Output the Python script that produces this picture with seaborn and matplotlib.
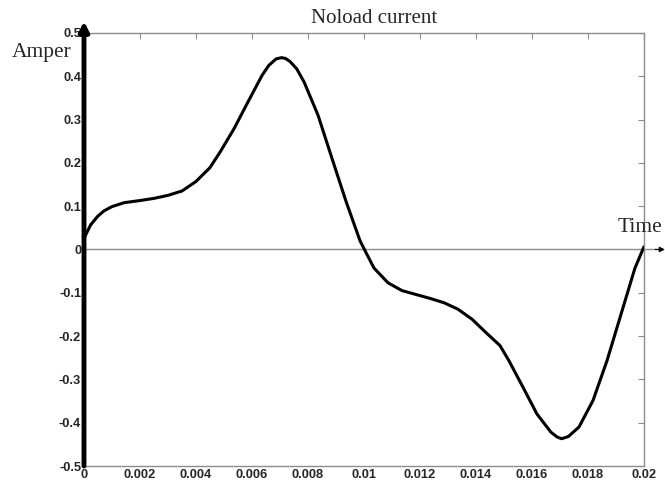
import numpy as np
import pandas as pd
import matplotlib
matplotlib.use("Agg")
import matplotlib.pyplot as plt
import seaborn as sns

# noload current
time = [0, 0.00024, 0.00048, 0.00071, 0.001, 0.00143, 0.002, 0.0025, 0.003,
        0.0035, 0.004, 0.0045, 0.00488, 0.00536, 0.00586, 0.00636, 0.0066,
        0.00686, 0.00706, 0.0072, 0.00736, 0.0076, 0.00786, 0.00836, 0.00886,
        0.00936, 0.00986, 0.01004, 0.01036, 0.01086, 0.01136, 0.01186, 0.01236,
        0.01286, 0.01336, 0.01386, 0.01436, 0.01486, 0.01518, 0.01568, 0.01618,
        0.01668, 0.0169, 0.01706, 0.0173, 0.01768, 0.01818, 0.01868, 0.01918,
        0.01968, 0.02]
current = [0.026, 0.057, 0.076, 0.089, 0.099, 0.108, 0.113, 0.118, 0.125,
           0.135, 0.157, 0.189, 0.227, 0.279, 0.341, 0.402, 0.425,
           0.440, 0.443, 0.441, 0.434, 0.417, 0.387, 0.310, 0.210,
           0.111, 0.020, -0.003, -0.043, -0.077, -0.095, -0.104, -0.113,
           -0.123, -0.138, -0.161, -0.192, -0.222, -0.257, -0.318, -0.380,
           -0.422, -0.433, -0.437, -0.432, -0.410, -0.349, -0.257, -0.150,
           -0.043, 0.006]

xticks = [0, 0.002, 0.004, 0.006, 0.008, 0.01, 0.012, 0.014, 0.016, 0.018, 0.02]
xlabels = ["0", "0.002", "0.004", "0.006", "0.008", "0.01", "0.012", "0.014",
           "0.016", "0.018", "0.02"]
yticks = [-0.5, -0.4, -0.3, -0.2, -0.1, 0, 0.1, 0.2, 0.3, 0.4, 0.5]
ylabels = ["-0.5", "-0.4", "-0.3", "-0.2", "-0.1", "0", "0.1", "0.2", "0.3",
           "0.4", "0.5"]

df = pd.DataFrame({"t": time, "i": current})

sns.set_style("white")
plt.rcParams['font.family'] = ['Liberation Sans', 'DejaVu Sans']

fig = plt.figure(figsize=(6.65, 4.91), dpi=100)
ax = fig.add_axes([0.1263, 0.0509, 0.842, 0.882])

grey = "#8c8c8c"
ax.axhline(0, color=grey, lw=1, xmax=1.028, clip_on=False, zorder=1)
sns.lineplot(data=df, x="t", y="i", color="black", lw=2.2, ax=ax, zorder=3)
ax.lines[-1].set_solid_joinstyle("round")

ax.set_xlim(0, 0.02)
ax.set_ylim(-0.5, 0.5)
ax.set_xticks(xticks)
ax.set_xticklabels(xlabels, fontweight="bold", fontsize=9.3)
ax.set_yticks(yticks)
ax.set_yticklabels(ylabels, fontweight="bold", fontsize=9.3)
ax.tick_params(direction="in", length=4, color=grey, top=True, right=True,
               pad=2)
ax.set_xlabel("")
ax.set_ylabel("")
for s in ax.spines.values():
    s.set_color(grey)
    s.set_linewidth(1)
ax.spines["left"].set_visible(False)

# thick vertical axis arrow and small time arrow
ax.annotate("", xy=(0, 0.527), xytext=(0, -0.5), xycoords="data",
            arrowprops=dict(arrowstyle="-|>", color="black", lw=3.5,
                            mutation_scale=14, shrinkA=0, shrinkB=0),
            annotation_clip=False, zorder=5)
ax.annotate("", xy=(0.02075, 0), xytext=(0.0204, 0),
            arrowprops=dict(arrowstyle="-|>", color="black", lw=0.8,
                            mutation_scale=8, shrinkA=0, shrinkB=0),
            annotation_clip=False)

serif = ['Liberation Serif', 'DejaVu Serif']
fig.text(0.563, 0.963, "Noload current", family=serif, fontsize=15,
         ha="center", va="center")
fig.text(0.017, 0.894, "Amper", family=serif, fontsize=15.5,
         ha="left", va="center")
fig.text(0.9955, 0.536, "Time", family=serif, fontsize=15.5,
         ha="right", va="center")

fig.savefig("out.png", dpi=100)
